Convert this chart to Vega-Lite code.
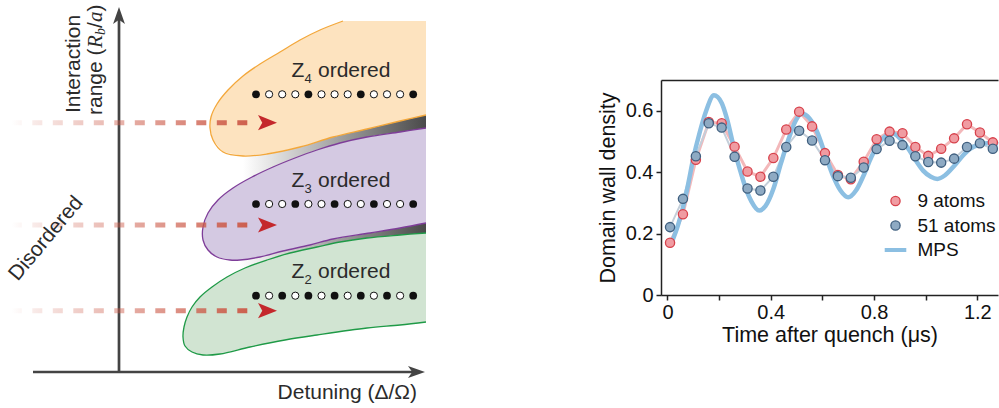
{
  "$schema": "https://vega.github.io/schema/vega-lite/v6.json",
  "padding": 0,
  "background": "white",
  "config": {"view": {"stroke": null}, "font": "Liberation Sans"},
  "datasets": {
    "regions": [
      {"region": "Z4", "i": 0, "detuning": 22.3, "range": 35.1, "part": "outline"},
      {"region": "Z4", "i": 1, "detuning": 20.0, "range": 34.2, "part": "outline"},
      {"region": "Z4", "i": 2, "detuning": 18.0, "range": 33.2, "part": "outline"},
      {"region": "Z4", "i": 3, "detuning": 16.0, "range": 32.0, "part": "outline"},
      {"region": "Z4", "i": 4, "detuning": 14.0, "range": 30.8, "part": "outline"},
      {"region": "Z4", "i": 5, "detuning": 12.3, "range": 29.6, "part": "outline"},
      {"region": "Z4", "i": 6, "detuning": 10.8, "range": 28.2, "part": "outline"},
      {"region": "Z4", "i": 7, "detuning": 9.7, "range": 26.8, "part": "outline"},
      {"region": "Z4", "i": 8, "detuning": 9.1, "range": 25.5, "part": "outline"},
      {"region": "Z4", "i": 9, "detuning": 9.0, "range": 24.4, "part": "outline"},
      {"region": "Z4", "i": 10, "detuning": 9.3, "range": 23.2, "part": "outline"},
      {"region": "Z4", "i": 11, "detuning": 10.3, "range": 22.0, "part": "outline"},
      {"region": "Z4", "i": 12, "detuning": 12.3, "range": 21.6, "part": "outline"},
      {"region": "Z4", "i": 13, "detuning": 14.7, "range": 21.8, "part": "outline"},
      {"region": "Z4", "i": 14, "detuning": 18.0, "range": 22.5, "part": "outline"},
      {"region": "Z4", "i": 15, "detuning": 21.3, "range": 23.5, "part": "outline"},
      {"region": "Z4", "i": 16, "detuning": 24.7, "range": 24.3, "part": "outline"},
      {"region": "Z4", "i": 17, "detuning": 28.0, "range": 25.1, "part": "outline"},
      {"region": "Z4", "i": 18, "detuning": 30.6, "range": 25.7, "part": "outline"},
      {"region": "Z4", "i": 19, "detuning": 30.6, "range": 35.1, "part": "edge"},
      {"region": "Z3", "i": 0, "detuning": 30.6, "range": 24.4, "part": "outline"},
      {"region": "Z3", "i": 1, "detuning": 28.0, "range": 24.0, "part": "outline"},
      {"region": "Z3", "i": 2, "detuning": 24.7, "range": 23.5, "part": "outline"},
      {"region": "Z3", "i": 3, "detuning": 22.0, "range": 22.9, "part": "outline"},
      {"region": "Z3", "i": 4, "detuning": 19.7, "range": 22.2, "part": "outline"},
      {"region": "Z3", "i": 5, "detuning": 17.5, "range": 21.4, "part": "outline"},
      {"region": "Z3", "i": 6, "detuning": 15.3, "range": 20.5, "part": "outline"},
      {"region": "Z3", "i": 7, "detuning": 13.2, "range": 19.5, "part": "outline"},
      {"region": "Z3", "i": 8, "detuning": 11.3, "range": 18.4, "part": "outline"},
      {"region": "Z3", "i": 9, "detuning": 9.8, "range": 17.2, "part": "outline"},
      {"region": "Z3", "i": 10, "detuning": 8.8, "range": 15.9, "part": "outline"},
      {"region": "Z3", "i": 11, "detuning": 8.3, "range": 14.5, "part": "outline"},
      {"region": "Z3", "i": 12, "detuning": 8.3, "range": 13.2, "part": "outline"},
      {"region": "Z3", "i": 13, "detuning": 8.8, "range": 12.2, "part": "outline"},
      {"region": "Z3", "i": 14, "detuning": 9.7, "range": 11.5, "part": "outline"},
      {"region": "Z3", "i": 15, "detuning": 11.0, "range": 11.2, "part": "outline"},
      {"region": "Z3", "i": 16, "detuning": 12.0, "range": 11.2, "part": "outline"},
      {"region": "Z3", "i": 17, "detuning": 14.0, "range": 11.5, "part": "outline"},
      {"region": "Z3", "i": 18, "detuning": 16.3, "range": 12.1, "part": "outline"},
      {"region": "Z3", "i": 19, "detuning": 19.0, "range": 12.7, "part": "outline"},
      {"region": "Z3", "i": 20, "detuning": 21.3, "range": 13.3, "part": "outline"},
      {"region": "Z3", "i": 21, "detuning": 25.0, "range": 13.9, "part": "outline"},
      {"region": "Z3", "i": 22, "detuning": 28.0, "range": 14.4, "part": "outline"},
      {"region": "Z3", "i": 23, "detuning": 30.6, "range": 14.9, "part": "outline"},
      {"region": "Z2", "i": 0, "detuning": 30.6, "range": 13.9, "part": "outline"},
      {"region": "Z2", "i": 1, "detuning": 28.0, "range": 13.7, "part": "outline"},
      {"region": "Z2", "i": 2, "detuning": 24.7, "range": 13.4, "part": "outline"},
      {"region": "Z2", "i": 3, "detuning": 22.0, "range": 13.0, "part": "outline"},
      {"region": "Z2", "i": 4, "detuning": 19.7, "range": 12.5, "part": "outline"},
      {"region": "Z2", "i": 5, "detuning": 17.0, "range": 11.9, "part": "outline"},
      {"region": "Z2", "i": 6, "detuning": 14.7, "range": 11.2, "part": "outline"},
      {"region": "Z2", "i": 7, "detuning": 12.5, "range": 10.4, "part": "outline"},
      {"region": "Z2", "i": 8, "detuning": 10.7, "range": 9.5, "part": "outline"},
      {"region": "Z2", "i": 9, "detuning": 9.2, "range": 8.5, "part": "outline"},
      {"region": "Z2", "i": 10, "detuning": 8.0, "range": 7.5, "part": "outline"},
      {"region": "Z2", "i": 11, "detuning": 7.2, "range": 6.5, "part": "outline"},
      {"region": "Z2", "i": 12, "detuning": 6.7, "range": 5.5, "part": "outline"},
      {"region": "Z2", "i": 13, "detuning": 6.4, "range": 4.5, "part": "outline"},
      {"region": "Z2", "i": 14, "detuning": 6.3, "range": 3.5, "part": "outline"},
      {"region": "Z2", "i": 15, "detuning": 6.5, "range": 2.6, "part": "outline"},
      {"region": "Z2", "i": 16, "detuning": 7.2, "range": 2.0, "part": "outline"},
      {"region": "Z2", "i": 17, "detuning": 8.3, "range": 1.7, "part": "outline"},
      {"region": "Z2", "i": 18, "detuning": 10.0, "range": 1.8, "part": "outline"},
      {"region": "Z2", "i": 19, "detuning": 13.0, "range": 2.5, "part": "outline"},
      {"region": "Z2", "i": 20, "detuning": 16.5, "range": 3.2, "part": "outline"},
      {"region": "Z2", "i": 21, "detuning": 19.7, "range": 3.7, "part": "outline"},
      {"region": "Z2", "i": 22, "detuning": 24.7, "range": 4.4, "part": "outline"},
      {"region": "Z2", "i": 23, "detuning": 28.0, "range": 4.7, "part": "outline"},
      {"region": "Z2", "i": 24, "detuning": 30.6, "range": 5.0, "part": "outline"}
    ],
    "bands": [
      {"band": "upper", "detuning": 12.3, "top": 21.6, "bottom": 18.98},
      {"band": "upper", "detuning": 14.7, "top": 21.8, "bottom": 20.21},
      {"band": "upper", "detuning": 18.0, "top": 22.5, "bottom": 21.58},
      {"band": "upper", "detuning": 21.3, "top": 23.5, "bottom": 22.69},
      {"band": "upper", "detuning": 24.7, "top": 24.3, "bottom": 23.5},
      {"band": "upper", "detuning": 28.0, "top": 25.1, "bottom": 24.0},
      {"band": "upper", "detuning": 30.6, "top": 25.7, "bottom": 24.4},
      {"band": "lower", "detuning": 12.0, "top": 11.2, "bottom": 10.15},
      {"band": "lower", "detuning": 14.0, "top": 11.5, "bottom": 10.95},
      {"band": "lower", "detuning": 16.3, "top": 12.1, "bottom": 11.69},
      {"band": "lower", "detuning": 19.0, "top": 12.7, "bottom": 12.34},
      {"band": "lower", "detuning": 21.3, "top": 13.3, "bottom": 12.85},
      {"band": "lower", "detuning": 25.0, "top": 13.9, "bottom": 13.43},
      {"band": "lower", "detuning": 28.0, "top": 14.4, "bottom": 13.7},
      {"band": "lower", "detuning": 30.6, "top": 14.9, "bottom": 13.9}
    ],
    "dots": [
      {"row": "Z4", "detuning": 13.60, "range": 27.77, "state": "filled"},
      {"row": "Z4", "detuning": 14.91, "range": 27.77, "state": "empty"},
      {"row": "Z4", "detuning": 16.22, "range": 27.77, "state": "empty"},
      {"row": "Z4", "detuning": 17.53, "range": 27.77, "state": "empty"},
      {"row": "Z4", "detuning": 18.84, "range": 27.77, "state": "filled"},
      {"row": "Z4", "detuning": 20.15, "range": 27.77, "state": "empty"},
      {"row": "Z4", "detuning": 21.46, "range": 27.77, "state": "empty"},
      {"row": "Z4", "detuning": 22.77, "range": 27.77, "state": "empty"},
      {"row": "Z4", "detuning": 24.08, "range": 27.77, "state": "filled"},
      {"row": "Z4", "detuning": 25.39, "range": 27.77, "state": "empty"},
      {"row": "Z4", "detuning": 26.70, "range": 27.77, "state": "empty"},
      {"row": "Z4", "detuning": 28.01, "range": 27.77, "state": "empty"},
      {"row": "Z4", "detuning": 29.32, "range": 27.77, "state": "filled"},
      {"row": "Z3", "detuning": 13.60, "range": 16.8, "state": "filled"},
      {"row": "Z3", "detuning": 14.91, "range": 16.8, "state": "empty"},
      {"row": "Z3", "detuning": 16.22, "range": 16.8, "state": "empty"},
      {"row": "Z3", "detuning": 17.53, "range": 16.8, "state": "filled"},
      {"row": "Z3", "detuning": 18.84, "range": 16.8, "state": "empty"},
      {"row": "Z3", "detuning": 20.15, "range": 16.8, "state": "empty"},
      {"row": "Z3", "detuning": 21.46, "range": 16.8, "state": "filled"},
      {"row": "Z3", "detuning": 22.77, "range": 16.8, "state": "empty"},
      {"row": "Z3", "detuning": 24.08, "range": 16.8, "state": "empty"},
      {"row": "Z3", "detuning": 25.39, "range": 16.8, "state": "filled"},
      {"row": "Z3", "detuning": 26.70, "range": 16.8, "state": "empty"},
      {"row": "Z3", "detuning": 28.01, "range": 16.8, "state": "empty"},
      {"row": "Z3", "detuning": 29.32, "range": 16.8, "state": "filled"},
      {"row": "Z2", "detuning": 13.60, "range": 7.63, "state": "filled"},
      {"row": "Z2", "detuning": 14.91, "range": 7.63, "state": "empty"},
      {"row": "Z2", "detuning": 16.22, "range": 7.63, "state": "filled"},
      {"row": "Z2", "detuning": 17.53, "range": 7.63, "state": "empty"},
      {"row": "Z2", "detuning": 18.84, "range": 7.63, "state": "filled"},
      {"row": "Z2", "detuning": 20.15, "range": 7.63, "state": "empty"},
      {"row": "Z2", "detuning": 21.46, "range": 7.63, "state": "filled"},
      {"row": "Z2", "detuning": 22.77, "range": 7.63, "state": "empty"},
      {"row": "Z2", "detuning": 24.08, "range": 7.63, "state": "filled"},
      {"row": "Z2", "detuning": 25.39, "range": 7.63, "state": "empty"},
      {"row": "Z2", "detuning": 26.70, "range": 7.63, "state": "filled"},
      {"row": "Z2", "detuning": 28.01, "range": 7.63, "state": "empty"},
      {"row": "Z2", "detuning": 29.32, "range": 7.63, "state": "filled"}
    ],
    "obs": [
      {"series": "9 atoms", "t": 0.01, "v": 0.170},
      {"series": "9 atoms", "t": 0.06, "v": 0.263},
      {"series": "9 atoms", "t": 0.11, "v": 0.440},
      {"series": "9 atoms", "t": 0.16, "v": 0.563},
      {"series": "9 atoms", "t": 0.21, "v": 0.559},
      {"series": "9 atoms", "t": 0.26, "v": 0.483},
      {"series": "9 atoms", "t": 0.31, "v": 0.402},
      {"series": "9 atoms", "t": 0.36, "v": 0.385},
      {"series": "9 atoms", "t": 0.41, "v": 0.446},
      {"series": "9 atoms", "t": 0.46, "v": 0.539},
      {"series": "9 atoms", "t": 0.51, "v": 0.597},
      {"series": "9 atoms", "t": 0.56, "v": 0.549},
      {"series": "9 atoms", "t": 0.61, "v": 0.462},
      {"series": "9 atoms", "t": 0.66, "v": 0.391},
      {"series": "9 atoms", "t": 0.71, "v": 0.377},
      {"series": "9 atoms", "t": 0.76, "v": 0.434},
      {"series": "9 atoms", "t": 0.81, "v": 0.507},
      {"series": "9 atoms", "t": 0.86, "v": 0.532},
      {"series": "9 atoms", "t": 0.91, "v": 0.527},
      {"series": "9 atoms", "t": 0.96, "v": 0.482},
      {"series": "9 atoms", "t": 1.01, "v": 0.453},
      {"series": "9 atoms", "t": 1.06, "v": 0.476},
      {"series": "9 atoms", "t": 1.11, "v": 0.510},
      {"series": "9 atoms", "t": 1.16, "v": 0.556},
      {"series": "9 atoms", "t": 1.21, "v": 0.529},
      {"series": "9 atoms", "t": 1.26, "v": 0.497},
      {"series": "51 atoms", "t": 0.01, "v": 0.221},
      {"series": "51 atoms", "t": 0.06, "v": 0.313},
      {"series": "51 atoms", "t": 0.11, "v": 0.452},
      {"series": "51 atoms", "t": 0.16, "v": 0.559},
      {"series": "51 atoms", "t": 0.21, "v": 0.545},
      {"series": "51 atoms", "t": 0.26, "v": 0.450},
      {"series": "51 atoms", "t": 0.31, "v": 0.347},
      {"series": "51 atoms", "t": 0.36, "v": 0.340},
      {"series": "51 atoms", "t": 0.41, "v": 0.385},
      {"series": "51 atoms", "t": 0.46, "v": 0.482},
      {"series": "51 atoms", "t": 0.51, "v": 0.535},
      {"series": "51 atoms", "t": 0.56, "v": 0.503},
      {"series": "51 atoms", "t": 0.61, "v": 0.439},
      {"series": "51 atoms", "t": 0.66, "v": 0.387},
      {"series": "51 atoms", "t": 0.71, "v": 0.382},
      {"series": "51 atoms", "t": 0.76, "v": 0.415},
      {"series": "51 atoms", "t": 0.81, "v": 0.475},
      {"series": "51 atoms", "t": 0.86, "v": 0.502},
      {"series": "51 atoms", "t": 0.91, "v": 0.488},
      {"series": "51 atoms", "t": 0.96, "v": 0.452},
      {"series": "51 atoms", "t": 1.01, "v": 0.433},
      {"series": "51 atoms", "t": 1.06, "v": 0.431},
      {"series": "51 atoms", "t": 1.11, "v": 0.444},
      {"series": "51 atoms", "t": 1.16, "v": 0.482},
      {"series": "51 atoms", "t": 1.21, "v": 0.494},
      {"series": "51 atoms", "t": 1.26, "v": 0.476}
    ],
    "mps": [
      {"t": 0.015, "v": 0.168}, {"t": 0.04, "v": 0.225}, {"t": 0.06, "v": 0.285},
      {"t": 0.08, "v": 0.36}, {"t": 0.10, "v": 0.445}, {"t": 0.125, "v": 0.53},
      {"t": 0.15, "v": 0.60}, {"t": 0.18, "v": 0.650}, {"t": 0.21, "v": 0.625},
      {"t": 0.23, "v": 0.575}, {"t": 0.26, "v": 0.47}, {"t": 0.28, "v": 0.41},
      {"t": 0.30, "v": 0.355}, {"t": 0.325, "v": 0.305}, {"t": 0.355, "v": 0.275},
      {"t": 0.38, "v": 0.29}, {"t": 0.41, "v": 0.345}, {"t": 0.44, "v": 0.43},
      {"t": 0.47, "v": 0.51}, {"t": 0.495, "v": 0.565}, {"t": 0.52, "v": 0.590},
      {"t": 0.55, "v": 0.575}, {"t": 0.58, "v": 0.53}, {"t": 0.61, "v": 0.46},
      {"t": 0.64, "v": 0.39}, {"t": 0.67, "v": 0.34}, {"t": 0.70, "v": 0.318},
      {"t": 0.73, "v": 0.34}, {"t": 0.76, "v": 0.39}, {"t": 0.79, "v": 0.45},
      {"t": 0.82, "v": 0.495}, {"t": 0.85, "v": 0.52}, {"t": 0.875, "v": 0.525},
      {"t": 0.90, "v": 0.51}, {"t": 0.93, "v": 0.48}, {"t": 0.96, "v": 0.44},
      {"t": 0.99, "v": 0.405}, {"t": 1.02, "v": 0.385}, {"t": 1.045, "v": 0.378},
      {"t": 1.075, "v": 0.39}, {"t": 1.11, "v": 0.42}, {"t": 1.14, "v": 0.45},
      {"t": 1.17, "v": 0.475}, {"t": 1.21, "v": 0.49}, {"t": 1.25, "v": 0.495},
      {"t": 1.28, "v": 0.49}
    ]
  },
  "hconcat": [
    {
      "width": 440,
      "height": 408,
      "encoding": {
        "x": {"field": "detuning", "type": "quantitative", "scale": {"domain": [-12, 32], "nice": false, "zero": false}, "axis": null},
        "y": {"field": "range", "type": "quantitative", "scale": {"domain": [-3.6, 37.2], "nice": false, "zero": false}, "axis": null}
      },
      "layer": [
        {
          "data": {"name": "bands"},
          "mark": {"type": "area", "interpolate": "monotone", "fill": {"gradient": "linear", "x1": 0, "y1": 0, "x2": 1, "y2": 0, "stops": [{"offset": 0, "color": "#ffffff"}, {"offset": 1, "color": "#4a4a4a"}]}},
          "encoding": {
            "y": {"field": "top", "type": "quantitative", "scale": {"domain": [-3.6, 37.2], "nice": false, "zero": false}, "axis": null},
            "y2": {"field": "bottom"},
            "detail": {"field": "band"}
          }
        },
        {
          "data": {"name": "regions"},
          "transform": [{"filter": "datum.region === 'Z4'"}],
          "mark": {"type": "line", "interpolate": "linear", "fill": "#fde3bf", "stroke": "transparent", "strokeWidth": 0},
          "encoding": {"order": {"field": "i", "type": "quantitative"}}
        },
        {
          "data": {"name": "regions"},
          "transform": [{"filter": "datum.region === 'Z3'"}],
          "mark": {"type": "line", "interpolate": "linear", "fill": "#d4c9e2", "stroke": "transparent", "strokeWidth": 0},
          "encoding": {"order": {"field": "i", "type": "quantitative"}}
        },
        {
          "data": {"name": "regions"},
          "transform": [{"filter": "datum.region === 'Z2'"}],
          "mark": {"type": "line", "interpolate": "linear", "fill": "#d1e4d2", "stroke": "transparent", "strokeWidth": 0},
          "encoding": {"order": {"field": "i", "type": "quantitative"}}
        },
        {
          "data": {"name": "regions"},
          "transform": [{"filter": "datum.region === 'Z4' && datum.part === 'outline'"}],
          "mark": {"type": "line", "interpolate": "catmull-rom", "color": "#f3a73a", "strokeWidth": 1.3},
          "encoding": {"order": {"field": "i", "type": "quantitative"}}
        },
        {
          "data": {"name": "regions"},
          "transform": [{"filter": "datum.region === 'Z3' && datum.part === 'outline'"}],
          "mark": {"type": "line", "interpolate": "catmull-rom", "color": "#7e3d99", "strokeWidth": 1.3},
          "encoding": {"order": {"field": "i", "type": "quantitative"}}
        },
        {
          "data": {"name": "regions"},
          "transform": [{"filter": "datum.region === 'Z2' && datum.part === 'outline'"}],
          "mark": {"type": "line", "interpolate": "catmull-rom", "color": "#1f9a47", "strokeWidth": 1.3},
          "encoding": {"order": {"field": "i", "type": "quantitative"}}
        },
        {
          "data": {"values": [
            {"axis": "v", "detuning": -0.1, "range": -0.1},
            {"axis": "v", "detuning": -0.1, "range": 35.6},
            {"axis": "h", "detuning": -8.7, "range": 0},
            {"axis": "h", "detuning": 29.6, "range": 0}
          ]},
          "mark": {"type": "line", "color": "#444444", "strokeWidth": 2.7},
          "encoding": {"detail": {"field": "axis"}}
        },
        {
          "data": {"values": [{"detuning": -0.1, "range": 35.65}]},
          "mark": {"type": "point", "shape": "M0,-1L0.7,1L0,0.5L-0.7,1Z", "size": 289, "filled": true, "fill": "#444444", "opacity": 1, "strokeWidth": 0}
        },
        {
          "data": {"values": [{"detuning": 29.65, "range": 0}]},
          "mark": {"type": "point", "shape": "M1,0L-1,0.7L-0.5,0L-1,-0.7Z", "size": 289, "filled": true, "fill": "#444444", "opacity": 1, "strokeWidth": 0}
        },
        {
          "data": {"values": [
            {"arrow": "a", "detuning": -10.82, "range": 24.93},
            {"arrow": "a", "detuning": 12.73, "range": 24.932},
            {"arrow": "b", "detuning": -10.82, "range": 14.7},
            {"arrow": "b", "detuning": 12.73, "range": 14.702},
            {"arrow": "c", "detuning": -10.82, "range": 6.13},
            {"arrow": "c", "detuning": 12.73, "range": 6.132}
          ]},
          "mark": {"type": "line", "strokeWidth": 5, "strokeCap": "butt", "strokeDash": [10, 10.5],
            "stroke": {"gradient": "linear", "x1": 0, "y1": 0, "x2": 1, "y2": 0, "stops": [
              {"offset": 0, "color": "rgba(204,90,72,0)"},
              {"offset": 0.1, "color": "rgba(204,90,72,0.13)"},
              {"offset": 0.45, "color": "rgba(204,90,72,0.45)"},
              {"offset": 0.75, "color": "rgba(204,90,72,0.72)"},
              {"offset": 1, "color": "rgba(204,90,72,0.95)"}]}},
          "encoding": {"detail": {"field": "arrow"}}
        },
        {
          "data": {"values": [
            {"detuning": 14.75, "range": 24.93},
            {"detuning": 14.75, "range": 14.7},
            {"detuning": 14.75, "range": 6.13}
          ]},
          "mark": {"type": "point", "shape": "M1,0L-1,0.8L-0.55,0L-1,-0.8Z", "size": 361, "filled": true, "fill": "#c4282c", "opacity": 1, "strokeWidth": 0}
        },
        {
          "data": {"name": "dots"},
          "transform": [{"filter": "datum.state === 'filled'"}],
          "mark": {"type": "point", "filled": true, "fill": "#111111", "size": 60, "opacity": 1, "strokeWidth": 0}
        },
        {
          "data": {"name": "dots"},
          "transform": [{"filter": "datum.state === 'empty'"}],
          "mark": {"type": "point", "filled": true, "fill": "#ffffff", "stroke": "#111111", "strokeWidth": 1, "size": 52, "opacity": 1}
        },
        {
          "data": {"values": [
            {"label": "Z", "detuning": 17.15, "range": 29.53},
            {"label": "ordered", "detuning": 19.8, "range": 29.53},
            {"label": "Z", "detuning": 17.15, "range": 18.53},
            {"label": "ordered", "detuning": 19.8, "range": 18.53},
            {"label": "Z", "detuning": 17.15, "range": 9.43},
            {"label": "ordered", "detuning": 19.8, "range": 9.43}
          ]},
          "mark": {"type": "text", "align": "left", "baseline": "alphabetic", "fontSize": 21, "font": "Liberation Sans", "color": "#2b2b2b"},
          "encoding": {"text": {"field": "label"}}
        },
        {
          "data": {"values": [
            {"label": "4", "detuning": 18.45, "range": 28.9},
            {"label": "3", "detuning": 18.45, "range": 17.9},
            {"label": "2", "detuning": 18.45, "range": 8.77}
          ]},
          "mark": {"type": "text", "align": "left", "baseline": "alphabetic", "fontSize": 13, "font": "Liberation Sans", "color": "#2b2b2b"},
          "encoding": {"text": {"field": "label"}}
        },
        {
          "data": {"values": [
            {"label": "Interaction", "detuning": -4.0, "range": 25.9},
            {"label": "range (", "detuning": -1.8, "range": 25.7},
            {"label": "/", "detuning": -1.8, "range": 34.4},
            {"label": ")", "detuning": -1.8, "range": 36.05}
          ]},
          "mark": {"type": "text", "angle": 270, "align": "left", "baseline": "alphabetic", "fontSize": 21, "font": "Liberation Sans", "color": "#2b2b2b"},
          "encoding": {"text": {"field": "label"}}
        },
        {
          "data": {"values": [
            {"label": "R", "detuning": -1.8, "range": 32.4},
            {"label": "a", "detuning": -1.8, "range": 35.0}
          ]},
          "mark": {"type": "text", "angle": 270, "align": "left", "baseline": "alphabetic", "fontSize": 21, "font": "Liberation Serif", "fontStyle": "italic", "color": "#2b2b2b"},
          "encoding": {"text": {"field": "label"}}
        },
        {
          "data": {"values": [{"label": "b", "detuning": -1.5, "range": 33.7}]},
          "mark": {"type": "text", "angle": 270, "align": "left", "baseline": "alphabetic", "fontSize": 14, "font": "Liberation Serif", "fontStyle": "italic", "color": "#2b2b2b"},
          "encoding": {"text": {"field": "label"}}
        },
        {
          "data": {"values": [{"label": "Detuning (Δ/Ω)", "detuning": 29.7, "range": -2.7}]},
          "mark": {"type": "text", "align": "right", "baseline": "alphabetic", "fontSize": 21, "font": "Liberation Sans", "color": "#2b2b2b"},
          "encoding": {"text": {"field": "label"}}
        },
        {
          "data": {"values": [{"label": "Disordered", "detuning": -6.93, "range": 12.97}]},
          "mark": {"type": "text", "angle": 310, "align": "center", "baseline": "alphabetic", "fontSize": 21, "font": "Liberation Sans", "color": "#2b2b2b"},
          "encoding": {"text": {"field": "label"}}
        }
      ]
    },
    {
      "vconcat": [
        {
          "width": 337,
          "height": 80,
          "data": {"values": [{"a": 1}]},
          "mark": {"type": "point", "opacity": 0},
          "encoding": {}
        },
        {
          "width": 337,
          "height": 215,
          "layer": [
            {
              "data": {"name": "obs"},
              "transform": [{"filter": "datum.series === '9 atoms'"}],
              "mark": {"type": "line", "color": "#f3b8ba", "strokeWidth": 3},
              "encoding": {
                "x": {"field": "t", "type": "quantitative", "title": "Time after quench (μs)",
                  "scale": {"domain": [-0.025, 1.28], "nice": false, "zero": false},
                  "axis": {"orient": "bottom", "values": [0, 0.2, 0.4, 0.6, 0.8, 1.0, 1.2],
                    "labelExpr": "abs(datum.value - round(datum.value / 0.4) * 0.4) < 0.001 ? (abs(datum.value) < 0.001 ? '0' : format(datum.value, '.1f')) : ''",
                    "tickSize": 5, "tickWidth": 1.5, "tickColor": "#222222", "domainColor": "#222222", "domainWidth": 1.5,
                    "labelFont": "Liberation Sans", "labelFontSize": 20, "labelColor": "#111111", "labelPadding": 2,
                    "labelOverlap": false, "labelFlush": false, "grid": false,
                    "titleFont": "Liberation Sans", "titleFontSize": 21.5, "titleFontWeight": "normal", "titleColor": "#111111", "titlePadding": 2}},
                "y": {"field": "v", "type": "quantitative", "title": "Domain wall density",
                  "scale": {"domain": [0, 0.7], "nice": false, "zero": false},
                  "axis": {"values": [0, 0.1, 0.2, 0.3, 0.4, 0.5, 0.6],
                    "labelExpr": "abs(datum.value - round(datum.value / 0.2) * 0.2) < 0.001 ? (abs(datum.value) < 0.001 ? '0' : format(datum.value, '.1f')) : ''",
                    "tickSize": 5, "tickWidth": 1.5, "tickColor": "#222222", "domainColor": "#222222", "domainWidth": 1.5,
                    "labelFont": "Liberation Sans", "labelFontSize": 20, "labelColor": "#111111", "labelPadding": 3,
                    "labelOverlap": false, "labelFlush": false, "grid": false,
                    "titleFont": "Liberation Sans", "titleFontSize": 21.5, "titleFontWeight": "normal", "titleColor": "#111111", "titlePadding": 6}}
              }
            },
            {
              "data": {"name": "obs"},
              "transform": [{"filter": "datum.series === '51 atoms'"}],
              "mark": {"type": "line", "color": "#c4cfda", "strokeWidth": 2},
              "encoding": {
                "x": {"field": "t", "type": "quantitative", "scale": {"domain": [-0.025, 1.28], "nice": false, "zero": false}, "axis": null},
                "y": {"field": "v", "type": "quantitative", "scale": {"domain": [0, 0.7], "nice": false, "zero": false}}
              }
            },
            {
              "data": {"name": "mps"},
              "mark": {"type": "line", "color": "#8cbfe2", "strokeWidth": 4.5, "interpolate": "monotone"},
              "encoding": {
                "x": {"field": "t", "type": "quantitative", "scale": {"domain": [-0.025, 1.28], "nice": false, "zero": false},
                  "axis": {"orient": "top", "labels": false, "ticks": false, "domain": true, "title": null, "grid": false, "domainColor": "#222222", "domainWidth": 1.5}},
                "y": {"field": "v", "type": "quantitative", "scale": {"domain": [0, 0.7], "nice": false, "zero": false}}
              }
            },
            {
              "data": {"name": "obs"},
              "mark": {"type": "point", "filled": true, "opacity": 1, "size": 85, "strokeWidth": 1.3},
              "encoding": {
                "x": {"field": "t", "type": "quantitative", "scale": {"domain": [-0.025, 1.28], "nice": false, "zero": false}, "axis": null},
                "y": {"field": "v", "type": "quantitative", "scale": {"domain": [0, 0.7], "nice": false, "zero": false}},
                "fill": {"field": "series", "type": "nominal",
                  "scale": {"domain": ["9 atoms", "51 atoms", "MPS"], "range": ["#f09ca2", "#8eaac3", "#8cbfe2"]},
                  "legend": {"title": null, "orient": "none", "legendX": 225, "legendY": 111.5, "padding": 0,
                    "labelFont": "Liberation Sans", "labelFontSize": 19, "labelColor": "#111111", "labelOffset": 12.4,
                    "rowPadding": 4.5, "symbolSize": 85, "symbolStrokeWidth": 1.3, "symbolOffset": 0}},
                "stroke": {"field": "series", "type": "nominal",
                  "scale": {"domain": ["9 atoms", "51 atoms", "MPS"], "range": ["#d7414b", "#3f5f7f", "#8cbfe2"]},
                  "legend": {"title": null}},
                "shape": {"field": "series", "type": "nominal",
                  "scale": {"domain": ["9 atoms", "51 atoms", "MPS"], "range": ["circle", "circle", "M-2.2,-0.3H2.2V0.3H-2.2Z"]},
                  "legend": {"title": null}}
              }
            }
          ],
          "resolve": {"axis": {"x": "independent"}}
        }
      ],
      "spacing": 0,
      "bounds": "flush",
      "resolve": {"scale": {"fill": "independent", "stroke": "independent", "shape": "independent"}}
    }
  ],
  "spacing": 221,
  "bounds": "flush",
  "resolve": {"scale": {"fill": "independent", "stroke": "independent", "shape": "independent"}}
}
